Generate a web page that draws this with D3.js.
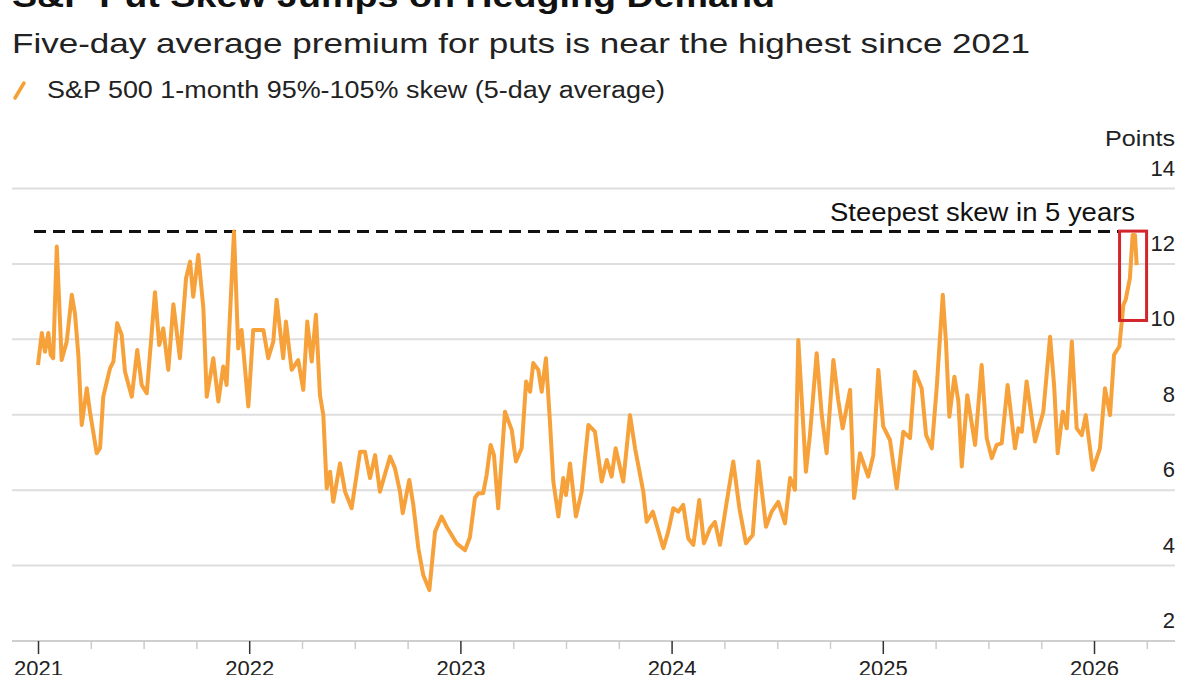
<!DOCTYPE html>
<html>
<head>
<meta charset="utf-8">
<script src="https://cdn.jsdelivr.net/npm/d3@7"></script>
<style>
    body { margin: 0; background: #fff; }
    svg { font-family: "Liberation Sans", Arial, Helvetica, sans-serif; }
</style>
</head>
<body>
<div id="chart"></div>
<script>
// ---- chart data ----
const titleText = "S&P Put Skew Jumps on Hedging Demand";
const subtitleText = "Five-day average premium for puts is near the highest since 2021";
const legendText = "S&P 500 1-month 95%-105% skew (5-day average)";
const unitText = "Points";
const annotationText = "Steepest skew in 5 years";

const yearTicks = [2021, 2022, 2023, 2024, 2025, 2026];
const quarterTicks = [2021, 2021.25, 2021.5, 2021.75, 2022, 2022.25, 2022.5, 2022.75,
    2023, 2023.25, 2023.5, 2023.75, 2024, 2024.25, 2024.5, 2024.75,
    2025, 2025.25, 2025.5, 2025.75, 2026, 2026.25];
const valueTicks = [2, 4, 6, 8, 10, 12, 14];

// time as decimal year
const dates = [
    2021.000, 2021.018, 2021.033, 2021.049, 2021.060, 2021.072, 2021.089, 2021.112, 2021.136, 2021.160,
    2021.175, 2021.191, 2021.207, 2021.231, 2021.246, 2021.278, 2021.294, 2021.309, 2021.341, 2021.357,
    2021.375, 2021.396, 2021.412, 2021.444, 2021.470, 2021.491, 2021.515, 2021.554, 2021.574, 2021.593,
    2021.617, 2021.641, 2021.672, 2021.701, 2021.720, 2021.735, 2021.759, 2021.783, 2021.799, 2021.830,
    2021.854, 2021.877, 2021.893, 2021.928, 2021.948, 2021.964, 2021.996, 2022.019, 2022.067, 2022.090,
    2022.114, 2022.130, 2022.161, 2022.174, 2022.201, 2022.232, 2022.256, 2022.275, 2022.296, 2022.316,
    2022.335, 2022.351, 2022.367, 2022.383, 2022.398, 2022.430, 2022.454, 2022.485, 2022.525, 2022.548,
    2022.572, 2022.596, 2022.619, 2022.667, 2022.690, 2022.714, 2022.727, 2022.758, 2022.777, 2022.801,
    2022.824, 2022.853, 2022.880, 2022.911, 2022.935, 2022.982, 2023.022, 2023.045, 2023.069, 2023.085,
    2023.108, 2023.124, 2023.143, 2023.159, 2023.179, 2023.211, 2023.243, 2023.263, 2023.290, 2023.311,
    2023.330, 2023.345, 2023.369, 2023.385, 2023.405, 2023.424, 2023.440, 2023.464, 2023.487, 2023.500,
    2023.519, 2023.547, 2023.574, 2023.606, 2023.637, 2023.669, 2023.693, 2023.716, 2023.735, 2023.771,
    2023.803, 2023.827, 2023.866, 2023.882, 2023.911, 2023.961, 2023.984, 2024.008, 2024.032, 2024.055,
    2024.079, 2024.103, 2024.131, 2024.153, 2024.182, 2024.205, 2024.229, 2024.261, 2024.292, 2024.321,
    2024.352, 2024.384, 2024.411, 2024.447, 2024.474, 2024.505, 2024.537, 2024.561, 2024.584, 2024.600,
    2024.636, 2024.655, 2024.687, 2024.711, 2024.734, 2024.766, 2024.789, 2024.810, 2024.845, 2024.864,
    2024.892, 2024.931, 2024.955, 2024.979, 2025.002, 2025.034, 2025.066, 2025.097, 2025.129, 2025.152,
    2025.184, 2025.205, 2025.232, 2025.255, 2025.284, 2025.299, 2025.315, 2025.339, 2025.358, 2025.374,
    2025.400, 2025.437, 2025.468, 2025.492, 2025.516, 2025.539, 2025.563, 2025.591, 2025.626, 2025.642,
    2025.658, 2025.681, 2025.721, 2025.760, 2025.792, 2025.811, 2025.828, 2025.852, 2025.871, 2025.895,
    2025.918, 2025.942, 2025.961, 2025.994, 2026.028, 2026.052, 2026.076, 2026.095, 2026.120, 2026.139,
    2026.150, 2026.170, 2026.183, 2026.194, 2026.202
];

const skew = [
    9.32, 10.17, 9.67, 10.17, 9.59, 9.50, 12.46, 9.45, 9.94, 11.18,
    10.69, 9.59, 7.73, 8.70, 8.08, 6.98, 7.12, 8.48, 9.23, 9.41,
    10.43, 10.12, 9.14, 8.48, 9.72, 8.79, 8.57, 11.25, 9.85, 10.29,
    9.19, 10.93, 9.50, 11.62, 12.06, 11.13, 12.24, 10.82, 8.48, 9.50,
    8.35, 9.28, 8.79, 12.86, 9.76, 10.25, 8.22, 10.25, 10.25, 9.50,
    9.94, 11.05, 9.50, 10.47, 9.19, 9.45, 8.66, 10.47, 9.41, 10.65,
    8.52, 7.99, 6.05, 6.49, 5.69, 6.71, 5.96, 5.52, 7.02, 7.02,
    6.32, 6.93, 5.96, 6.89, 6.58, 5.96, 5.39, 6.27, 5.61, 4.46,
    3.75, 3.35, 4.90, 5.30, 5.03, 4.59, 4.41, 4.75, 5.80, 5.92,
    5.92, 6.40, 7.20, 6.93, 5.52, 8.08, 7.60, 6.76, 7.11, 8.88,
    8.61, 9.37, 9.19, 8.61, 9.50, 7.82, 6.23, 5.30, 6.32, 5.87,
    6.71, 5.30, 5.96, 7.73, 7.55, 6.23, 6.80, 6.36, 7.11, 6.23,
    7.99, 7.11, 5.96, 5.16, 5.43, 4.46, 4.90, 5.52, 5.43, 5.61,
    4.72, 4.55, 5.74, 4.59, 4.99, 5.16, 4.55, 5.69, 6.76, 5.52,
    4.59, 4.81, 6.76, 5.03, 5.43, 5.69, 5.12, 6.32, 6.01, 9.98,
    6.49, 7.46, 9.63, 7.99, 6.98, 9.45, 8.39, 7.64, 8.66, 5.79,
    6.98, 6.36, 6.93, 9.19, 7.69, 7.33, 6.05, 7.55, 7.38, 9.14,
    8.70, 7.46, 7.11, 8.70, 11.18, 9.94, 7.95, 9.01, 8.35, 6.63,
    8.52, 7.20, 9.32, 7.38, 6.85, 7.20, 7.24, 8.79, 7.11, 7.64,
    7.55, 8.88, 7.29, 8.08, 10.07, 8.79, 6.98, 8.08, 7.64, 9.94,
    7.64, 7.46, 7.99, 6.54, 7.11, 8.70, 7.99, 9.59, 9.81, 10.91,
    11.05, 11.62, 12.77, 12.77, 11.97
];

// reference level and highlighted window
const steepestLevel = 12.86;
const highlightDates = [2026.121, 2026.249];
const highlightValues = [10.5, 12.87];

class SkewChart {
    constructor(_config) {
        this.config = {
            parentElement: _config.parentElement,
            containerWidth: _config.containerWidth || 1200,
            containerHeight: _config.containerHeight || 675
        };
        this.initVis();
    }

    initVis() {
        let vis = this;

        vis.svg = d3.select(vis.config.parentElement).append('svg')
            .attr('width', vis.config.containerWidth)
            .attr('height', vis.config.containerHeight);

        // scales: years map to pixel columns, points to rows
        vis.xScale = d3.scaleLinear().domain([2021, 2026]).range([38, 1094]);
        vis.yScale = d3.scaleLinear().domain([2, 14]).range([641, 188.5]);
        vis.gridLeft = 12;
        vis.gridRight = 1175;

        // headings (source type is set wider than Arial, so stretch to its measured width)
        vis.svg.append('text')
            .attr('x', 12).attr('y', 7)
            .attr('textLength', 763).attr('lengthAdjust', 'spacingAndGlyphs')
            .style('font-size', '31px').style('font-weight', 'bold')
            .attr('fill', '#111')
            .text(titleText);

        vis.svg.append('text')
            .attr('x', 12).attr('y', 53)
            .attr('textLength', 1018).attr('lengthAdjust', 'spacingAndGlyphs')
            .style('font-size', '28px')
            .attr('fill', '#222')
            .text(subtitleText);

        vis.svg.append('line')
            .attr('x1', 15).attr('y1', 98).attr('x2', 24).attr('y2', 83)
            .attr('stroke', '#f5a033').attr('stroke-width', 3.5)
            .attr('stroke-linecap', 'round');

        vis.svg.append('text')
            .attr('x', 47).attr('y', 98)
            .attr('textLength', 618).attr('lengthAdjust', 'spacingAndGlyphs')
            .style('font-size', '23px')
            .attr('fill', '#222')
            .text(legendText);

        vis.renderVis();
    }

    renderVis() {
        let vis = this;

        // horizontal grid
        vis.svg.selectAll('.grid')
            .data(valueTicks)
            .join('line')
            .attr('class', 'grid')
            .attr('x1', vis.gridLeft).attr('x2', vis.gridRight)
            .attr('y1', d => vis.yScale(d)).attr('y2', d => vis.yScale(d))
            .attr('stroke', d => d === 2 ? '#cfcfcf' : '#dedede')
            .attr('stroke-width', 2);

        // right value labels sit above their gridline
        vis.svg.selectAll('.y-label')
            .data(valueTicks)
            .join('text')
            .attr('class', 'y-label')
            .attr('x', vis.gridRight)
            .attr('y', d => vis.yScale(d) - 13)
            .attr('text-anchor', 'end')
            .style('font-size', '22px')
            .attr('fill', '#222')
            .text(d => d);

        vis.svg.append('text')
            .attr('x', vis.gridRight - 70)
            .attr('y', vis.yScale(14) - 43)
            .attr('textLength', 70).attr('lengthAdjust', 'spacingAndGlyphs')
            .style('font-size', '22px')
            .attr('fill', '#222')
            .text(unitText);

        // x axis: quarterly minor ticks plus labelled years
        const base = vis.yScale(2);
        const minorAxis = d3.axisBottom(vis.xScale)
            .tickValues(quarterTicks.filter(d => !yearTicks.includes(d)))
            .tickSize(8)
            .tickFormat('');
        vis.svg.append('g')
            .attr('transform', `translate(0,${base})`)
            .call(minorAxis)
            .call(g => g.select('.domain').remove())
            .call(g => g.selectAll('.tick line').attr('stroke', '#cccccc').attr('stroke-width', 1.5));

        const majorAxis = d3.axisBottom(vis.xScale)
            .tickValues(yearTicks)
            .tickSize(13)
            .tickPadding(6)
            .tickFormat(d3.format('d'));
        vis.svg.append('g')
            .attr('transform', `translate(0,${base})`)
            .call(majorAxis)
            .call(g => g.select('.domain').remove())
            .call(g => g.selectAll('.tick line').attr('stroke', '#333').attr('stroke-width', 1.5))
            .call(g => g.selectAll('.tick text')
                .style('font-size', '22px')
                .style('font-family', '"Liberation Sans", Arial, sans-serif')
                .attr('fill', '#222'));

        // dashed reference line at the five-year high
        vis.svg.append('line')
            .attr('x1', vis.xScale(dates[0]) - 4)
            .attr('x2', vis.xScale(highlightDates[0]))
            .attr('y1', vis.yScale(steepestLevel))
            .attr('y2', vis.yScale(steepestLevel))
            .attr('stroke', '#111')
            .attr('stroke-width', 2.8)
            .attr('stroke-dasharray', '12,7');

        vis.svg.append('text')
            .attr('x', 830)
            .attr('y', vis.yScale(steepestLevel) - 10)
            .attr('textLength', 305).attr('lengthAdjust', 'spacingAndGlyphs')
            .style('font-size', '25px')
            .attr('fill', '#111')
            .text(annotationText);

        // series line
        vis.line = d3.line()
            .x(i => vis.xScale(dates[i]))
            .y(i => vis.yScale(skew[i]))
            .curve(d3.curveLinear);

        vis.svg.append('path')
            .datum(d3.range(dates.length))
            .attr('fill', 'none')
            .attr('stroke', '#f7a13a')
            .attr('stroke-width', 4)
            .attr('stroke-linejoin', 'round')
            .attr('d', vis.line);

        // red highlight box around the latest jump
        vis.svg.append('rect')
            .attr('x', vis.xScale(highlightDates[0]))
            .attr('y', vis.yScale(highlightValues[1]))
            .attr('width', vis.xScale(highlightDates[1]) - vis.xScale(highlightDates[0]))
            .attr('height', vis.yScale(highlightValues[0]) - vis.yScale(highlightValues[1]))
            .attr('fill', 'none')
            .attr('stroke', '#d3262c')
            .attr('stroke-width', 3);
    }
}

new SkewChart({ parentElement: '#chart' });
</script>
</body>
</html>
